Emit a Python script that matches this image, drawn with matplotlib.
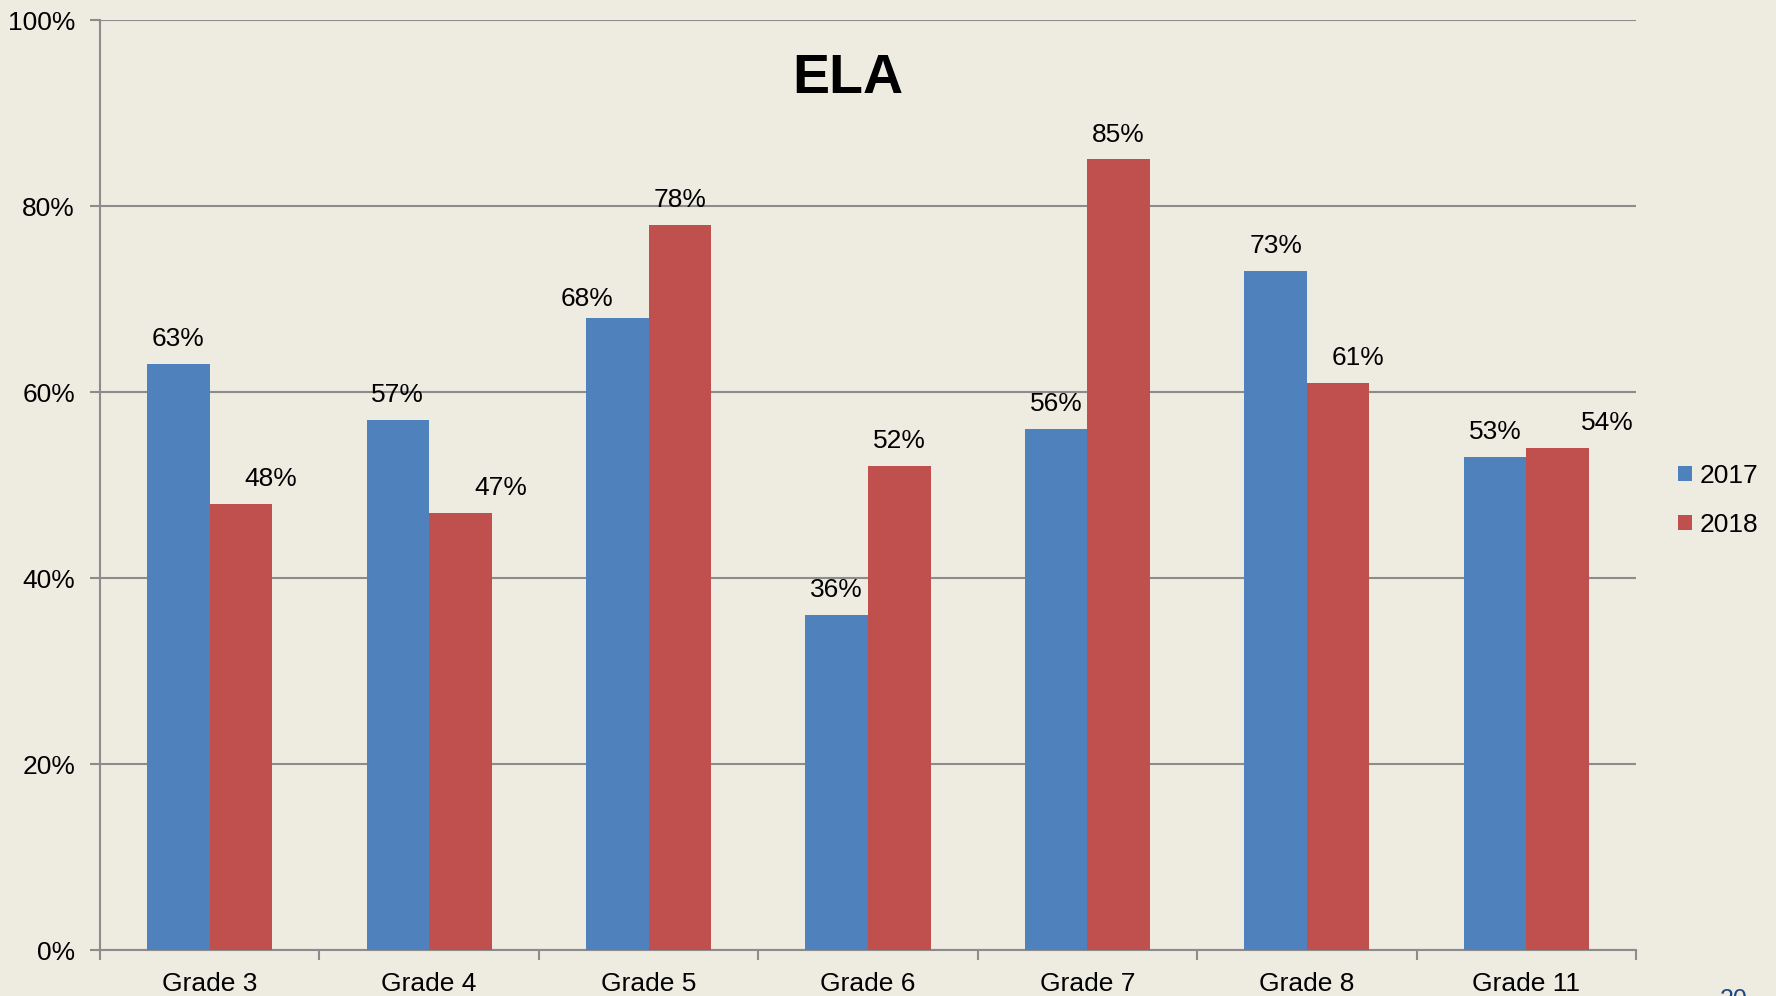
import matplotlib
matplotlib.use("Agg")
import matplotlib.pyplot as plt
import numpy as np

categories = ["Grade 3", "Grade 4", "Grade 5", "Grade 6", "Grade 7", "Grade 8", "Grade 11"]
series_names = ["2017", "2018"]
values_2017 = [63, 57, 68, 36, 56, 73, 53]
values_2018 = [48, 47, 78, 52, 85, 61, 54]
y_ticks = [0, 20, 40, 60, 80, 100]
y_tick_labels = ["0%", "20%", "40%", "60%", "80%", "100%"]
title = "ELA"
# nudges (pixels) of a few data labels, as placed in the original
label_dx_2017 = [0, 0, -30, 0, 0, 0, 0]
label_dx_2018 = [30, 40, 0, 0, 0, 20, 50]
label_dy_2017 = [18, 18, 12, 18, 18, 18, 18]
label_dy_2018 = [18, 18, 18, 18, 18, 18, 18]

plt.rcParams['font.family'] = ['Liberation Sans', 'DejaVu Sans']

BG = "#EEEBE0"
BLUE = "#4F81BD"
RED = "#C0504D"
GRID = "#8C8C8C"
FS = 19

fig = plt.figure(figsize=(17.76, 9.96), dpi=100, facecolor=BG)
ax = fig.add_axes([100/1776, 1-950/996, 1536/1776, 930/996])
ax.set_facecolor(BG)

x = np.arange(len(categories))
w = 0.285
b1 = ax.bar(x - w/2, values_2017, w, color=BLUE, label=series_names[0], zorder=3)
b2 = ax.bar(x + w/2, values_2018, w, color=RED, label=series_names[1], zorder=3)

for bars, vals, dxs, dys in ((b1, values_2017, label_dx_2017, label_dy_2017),
                             (b2, values_2018, label_dx_2018, label_dy_2018)):
    for bar, v, dx, dy in zip(bars, vals, dxs, dys):
        ax.annotate(f"{v}%", (bar.get_x() + bar.get_width()/2, v),
                    xytext=(dx, dy), textcoords="offset pixels",
                    ha="center", va="baseline", fontsize=FS, color="black", zorder=4)

ax.set_xlim(-0.5, len(categories) - 0.5)
ax.set_ylim(0, 100)
ax.set_yticks(y_ticks)
ax.set_yticklabels(y_tick_labels)
ax.yaxis.grid(True, color=GRID, linewidth=1.5, zorder=0)
ax.set_axisbelow(True)

ax.set_xticks(np.arange(len(categories) + 1) - 0.5)
ax.set_xticklabels([])
ax.set_xticks(x, minor=True)
ax.set_xticklabels(categories, minor=True)
ax.tick_params(axis="x", which="major", length=7, width=1.5, color=GRID, direction="out")
ax.tick_params(axis="x", which="minor", length=0, pad=16, labelsize=FS)
ax.tick_params(axis="y", length=7, width=1.5, color=GRID, pad=11, labelsize=FS)

for s in ("top", "right"):
    ax.spines[s].set_visible(False)
for s in ("left", "bottom"):
    ax.spines[s].set_color(GRID)
    ax.spines[s].set_linewidth(1.5)

fig.text(848/1776, 1-93/996, title, ha="center", va="baseline",
         fontsize=40, fontweight="bold")

leg = fig.legend(handles=[b1, b2], labels=series_names, loc="center left",
                 bbox_to_anchor=(1678/1776, 1-500.5/996), frameon=False,
                 fontsize=FS, handlelength=0.53, handleheight=0.53,
                 handletextpad=0.3, labelspacing=0.95, borderpad=0, borderaxespad=0)

fig.text(1720/1776, 1-988/996, "20", ha="left", va="top", fontsize=18, color="#1F497D")

fig.savefig("out.png", dpi=100, facecolor=BG)
